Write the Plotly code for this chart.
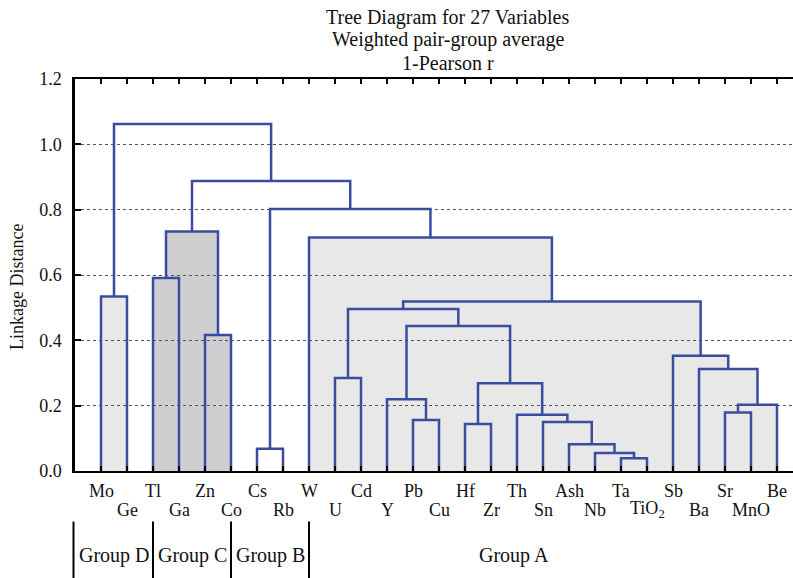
import plotly.graph_objects as go

# ---------------- data ----------------
leaves = ["Mo", "Ge", "Tl", "Ga", "Zn", "Co", "Cs", "Rb", "W", "U", "Cd", "Y", "Pb", "Cu",
          "Hf", "Zr", "Th", "Sn", "Ash", "Nb", "Ta", "TiO<sub>2</sub>", "Sb", "Ba", "Sr", "MnO", "Be"]

# agglomeration schedule: cluster "cK" is the K-th merge
merge_left = ["Ta", "Nb", "Ash", "Cs", "Hf", "Sn", "Pb", "Th", "Sr", "c9", "Y", "c5", "U",
              "Ba", "Sb", "Zn", "c11", "c13", "c18", "Mo", "Tl", "W", "c21", "c4", "c23", "c20"]
merge_right = ["TiO<sub>2</sub>", "c1", "c2", "Rb", "Zr", "c3", "Cu", "c6", "MnO", "Be", "c7", "c8", "Cd",
               "c10", "c14", "Co", "c12", "c17", "c15", "Ge", "Ga", "c19", "c16", "c22", "c24", "c25"]
merge_height = [0.039, 0.055, 0.082, 0.068, 0.144, 0.150, 0.156, 0.172, 0.179, 0.203, 0.220, 0.269, 0.285,
                0.312, 0.353, 0.416, 0.444, 0.496, 0.519, 0.534, 0.591, 0.715, 0.733, 0.802, 0.888, 1.062]
merge_group = ["A", "A", "A", "B", "A", "A", "A", "A", "A", "A", "A", "A", "A",
               "A", "A", "C", "A", "A", "A", "D", "C", "A", "C", "", "", ""]

group_names = ["Group D", "Group C", "Group B", "Group A"]
group_edges = [0, 3, 6, 9]          # leaf-position boundaries of the groups
group_label_at = [1.5, 4.5, 7.5, 16.9]

y_ticks = [0.0, 0.2, 0.4, 0.6, 0.8, 1.0, 1.2]

title_lines = ["Tree Diagram for 27 Variables", "Weighted pair-group average", "1-Pearson r"]
y_title = "Linkage Distance"

# ---------------- styles ----------------
LINE_COLOR = "#3a4c9e"
FILL = {"A": "#e8e8e8", "D": "#e8e8e8", "C": "#cfcfd2", "B": None, "": None}
FONT = "Liberation Serif, Times New Roman, serif"

W_PX, H_PX = 793, 578
L, T, R, B = 75, 79, 0, 107
PLOT_W = W_PX - L - R
PLOT_H = H_PX - T - B
UNIT = 26.0
x_range = [0, PLOT_W / UNIT]
y_range = [0, 1.2]


def px_to_paper_y(py):
    return (H_PX - B - py) / PLOT_H


def px_to_paper_x(px):
    return (px - L) / PLOT_W


# ---------------- compute dendrogram ----------------
pos = {name: i + 1 for i, name in enumerate(leaves)}
hgt = {name: 0.0 for name in leaves}
xs, ys = [], []
shapes = []
for k, (a, b, h, g) in enumerate(zip(merge_left, merge_right, merge_height, merge_group)):
    name = "c%d" % (k + 1)
    xa, xb = pos[a], pos[b]
    xs += [xa, xa, xb, xb, None]
    ys += [hgt[a], h, h, hgt[b], None]
    if FILL.get(g):
        shapes.append(dict(type="rect", xref="x", yref="y", x0=xa, x1=xb, y0=0, y1=h,
                           fillcolor=FILL[g], line=dict(width=0), layer="below"))
    pos[name] = (xa + xb) / 2
    hgt[name] = h

fig = go.Figure()
fig.add_trace(go.Scatter(x=xs, y=ys, mode="lines",
                         line=dict(color=LINE_COLOR, width=2.5),
                         hoverinfo="skip", showlegend=False))

annotations = []
# leaf labels in two staggered rows
for i, name in enumerate(leaves):
    row_py = 490.5 if i % 2 == 0 else 509.5
    annotations.append(dict(x=i + 1, y=px_to_paper_y(row_py), xref="x", yref="paper",
                            text=name, showarrow=False, xanchor="center", yanchor="middle",
                            font=dict(family=FONT, size=18, color="#111")))

# group separators and labels
for e in group_edges:
    xp = px_to_paper_x(L + e * UNIT) - (1.5 / PLOT_W if e == 0 else 0)
    shapes.append(dict(type="line", xref="paper", yref="paper",
                       x0=xp, x1=xp, y0=px_to_paper_y(521.5), y1=px_to_paper_y(580),
                       line=dict(color="black", width=2)))
for name, xa in zip(group_names, group_label_at):
    annotations.append(dict(x=xa, y=px_to_paper_y(555), xref="x", yref="paper",
                            text=name, showarrow=False, xanchor="center", yanchor="middle",
                            font=dict(family=FONT, size=20, color="#111")))

# title lines
for line, py in zip(title_lines, [17, 40, 63]):
    annotations.append(dict(x=px_to_paper_x(447.5), y=px_to_paper_y(py), xref="paper", yref="paper",
                            text=line, showarrow=False, xanchor="center", yanchor="middle",
                            font=dict(family=FONT, size=20, color="#111")))

# y-axis title
annotations.append(dict(x=px_to_paper_x(17), y=px_to_paper_y(287), xref="paper", yref="paper",
                        text=y_title, showarrow=False, textangle=-90,
                        xanchor="center", yanchor="middle",
                        font=dict(family=FONT, size=18, color="#111")))

fig.update_layout(
    width=W_PX, height=H_PX,
    margin=dict(l=L, r=R, t=T, b=B, pad=0),
    paper_bgcolor="white", plot_bgcolor="white",
    shapes=shapes, annotations=annotations,
    showlegend=False,
    xaxis=dict(range=x_range, showgrid=False, zeroline=False,
               showline=True, linecolor="black", linewidth=2, mirror="ticks",
               tickmode="array", tickvals=list(range(1, len(leaves) + 1)),
               ticks="inside", ticklen=5, tickwidth=2, tickcolor="black",
               showticklabels=False),
    yaxis=dict(range=y_range, showgrid=True, gridcolor="#555", gridwidth=1, griddash="dot",
               zeroline=False, showline=True, linecolor="black", linewidth=2.5, mirror=False,
               tickmode="array", tickvals=y_ticks, ticktext=["%.1f" % v for v in y_ticks],
               ticks="inside", ticklen=6, tickwidth=2, tickcolor="black",
               ticklabelstandoff=7,
               tickfont=dict(family=FONT, size=18, color="#111")),
)

fig.write_html("out.html", config={"displayModeBar": False},
               post_script="document.body.style.margin='0';document.body.style.overflow='hidden';")
